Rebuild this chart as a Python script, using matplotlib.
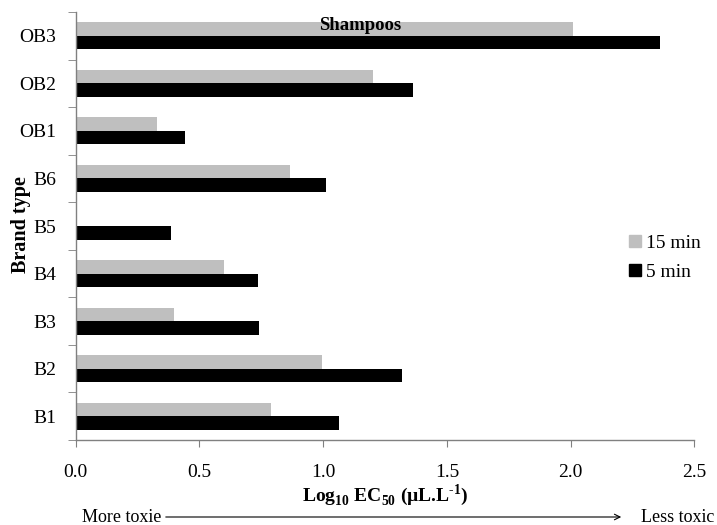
import matplotlib
matplotlib.use("Agg")
import matplotlib.pyplot as plt
from matplotlib.patches import Patch, FancyArrowPatch
import numpy as np

categories = ["B1", "B2", "B3", "B4", "B5", "B6", "OB1", "OB2", "OB3"]
min15 = [0.79, 0.997, 0.396, 0.60, 0.0, 0.867, 0.33, 1.20, 2.009]
min5 = [1.065, 1.318, 0.74, 0.738, 0.385, 1.01, 0.443, 1.365, 2.362]
xticks = [0.0, 0.5, 1.0, 1.5, 2.0, 2.5]

plt.rcParams['font.family'] = ['Liberation Serif', 'DejaVu Serif']
plt.rcParams['mathtext.fontset'] = 'custom'
plt.rcParams['mathtext.rm'] = 'Liberation Serif'
plt.rcParams['mathtext.bf'] = 'Liberation Serif:bold'

W, H = 717, 525
fig = plt.figure(figsize=(W / 100, H / 100), dpi=100)
ax = fig.add_axes([75.7 / W, 1 - 440 / H, (694.3 - 75.7) / W, (440 - 12) / H])

y = np.arange(len(categories))
bw = 0.284
ax.barh(y + bw / 2, min15, height=bw, color='#BFBFBF', label='15 min')
ax.barh(y - bw / 2, min5, height=bw, color='#000000', label='5 min')

ax.set_xlim(0, 2.5)
ax.set_ylim(-0.5, len(categories) - 0.5)
ax.set_xticks(xticks)
ax.set_xticklabels([f"{v:.1f}" for v in xticks], fontsize=14)
ax.set_yticks(y)
ax.set_yticklabels(categories, fontsize=14)
ax.set_yticks(np.arange(-0.5, len(categories), 1.0), minor=True)
ax.tick_params(axis='y', which='major', length=0, pad=14)
ax.tick_params(axis='y', which='minor', length=6, direction='out', color='#808080')
ax.tick_params(axis='x', which='major', length=5, direction='out', color='#808080', pad=12)

for s in ['top', 'right']:
    ax.spines[s].set_visible(False)
for s in ['left', 'bottom']:
    ax.spines[s].set_color('#808080')
    ax.spines[s].set_linewidth(1.0)

ax.set_xlabel('Log$_{\\mathbf{10}}$ EC$_{\\mathbf{50}}$ (\u00b5L.L$^{\\mathbf{\u20101}}$)',
              fontsize=14, fontweight='bold', labelpad=1)
fig.text(21 / W, 1 - 225 / H, 'Brand type', fontsize=14.5, fontweight='bold',
         rotation=90, ha='center', va='center')

fig.text(360 / W, 1 - 25 / H, 'Shampoos', fontsize=13.5, fontweight='bold',
         ha='center', va='center')

handles = [Patch(color='#BFBFBF', label='15 min'), Patch(color='#000000', label='5 min')]
fig.legend(handles=handles, loc='upper left', bbox_to_anchor=(629 / W, 1 - 235 / H),
           frameon=False, fontsize=14, handlelength=0.6, handleheight=0.6,
           handletextpad=0.3, labelspacing=0.6, borderpad=0, borderaxespad=0)

ya = 1 - 517 / H
fig.text(82 / W, ya, 'More toxie', fontsize=13, ha='left', va='center')
fig.text(641 / W, ya, 'Less toxic', fontsize=13, ha='left', va='center')
fig.add_artist(FancyArrowPatch((163 / W, ya), (624 / W, ya),
               transform=fig.transFigure, arrowstyle='->', mutation_scale=10,
               color='black', linewidth=0.8))

fig.savefig('out.png', dpi=100)
